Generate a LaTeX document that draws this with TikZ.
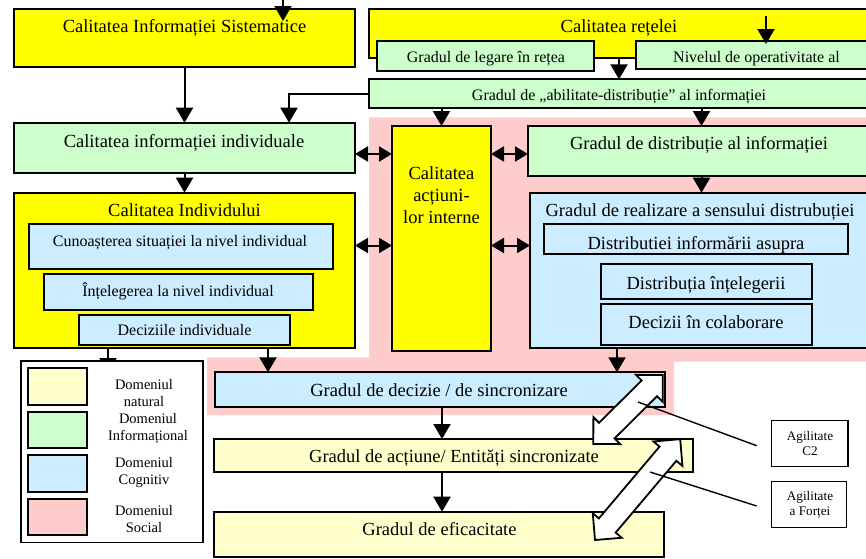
\documentclass[tikz,border=0pt]{standalone}
\usepackage{fontspec}
\setmainfont{Liberation Serif}
\usetikzlibrary{arrows.meta,calc}

\definecolor{sysyel}{HTML}{FFFF00}
\definecolor{natyel}{HTML}{FFFFCC}
\definecolor{infgreen}{HTML}{CCFFCC}
\definecolor{cogblue}{HTML}{CCECFF}
\definecolor{socpink}{HTML}{FFCCCC}

\tikzset{
  bx/.style={draw=black, line width=1.8pt, inner sep=0pt, outer sep=0pt, anchor=north west},
  thinbx/.style={draw=black, line width=1.5pt, inner sep=0pt, outer sep=0pt, anchor=north west, fill=white},
  tbig/.style={font=\fontsize{18.5}{22}\selectfont, inner sep=0pt, anchor=base},
  tmid/.style={font=\fontsize{16}{19}\selectfont, inner sep=0pt, anchor=base},
  tleg/.style={font=\fontsize{14.5}{17}\selectfont, inner sep=0pt, align=center},
  tagl/.style={font=\fontsize{13.2}{15}\selectfont, inner sep=0pt, align=center},
  arr/.style={line width=2pt, -{Triangle[width=17pt,length=15pt]}},
  darr/.style={line width=2pt, {Triangle[width=15pt,length=13pt]}-{Triangle[width=15pt,length=13pt]}},
  blk/.style={draw=black, line width=1.8pt, fill=white, line join=miter},
  thin/.style={line width=1.4pt},
}

% double-headed block arrow: start point, angle, length
\newcommand\blockarrow[3]{%
  \begin{scope}[shift={#1}, rotate=#2]
    \draw[blk] (0,0) -- (19,19) -- (19,11) -- (#3-19,11) -- (#3-19,19) -- (#3,0)
      -- (#3-19,-19) -- (#3-19,-11) -- (19,-11) -- (19,-19) -- cycle;
  \end{scope}}

\begin{document}
\begin{tikzpicture}[x=1pt,y=-1pt]
\useasboundingbox (0,0) rectangle (866,558);
\clip (0,0) rectangle (866,558);

% social domain background
\fill[socpink] (369,117.3) -- (875,117.3) -- (875,361.7) -- (674,361.7) -- (674,415)
  -- (207,415) -- (207,357.3) -- (369,357.3) -- cycle;

% top row
\node[bx, fill=sysyel, minimum width=341pt, minimum height=57.4pt] (cis) at (14,9.3) {};
\node[tbig] (cis-t) at (184.5,32.3) {Calitatea Informației Sistematice};

\node[bx, fill=sysyel, minimum width=506pt, minimum height=48.7pt] (ret) at (369,9.3) {};
\node[tbig] (ret-t) at (619,32.3) {Calitatea rețelei};
\node[bx, fill=infgreen, minimum width=217pt, minimum height=30pt] (lgr) at (377,41) {};
\node[tmid] (lgr-t) at (486,62.5) {Gradul de legare în rețea};
\node[bx, fill=infgreen, minimum width=239pt, minimum height=28pt] (niv) at (636,41) {};
\node[tmid] (niv-t) at (756.5,62.5) {Nivelul de operativitate al};

\node[bx, fill=infgreen, minimum width=506pt, minimum height=29pt] (abil) at (369,79.3) {};
\node[tmid] (abil-t) at (619,100.5) {Gradul de „abilitate-distribuție” al informației};

% left column
\node[bx, fill=infgreen, minimum width=341pt, minimum height=50.6pt] (cii) at (14,122.7) {};
\node[tbig] (cii-t) at (184,147) {Calitatea informației individuale};

\node[bx, fill=sysyel, minimum width=341pt, minimum height=155.6pt] (ci) at (14,192.7) {};
\node[tbig] (ci-t) at (184.5,216.5) {Calitatea Individului};
\node[bx, fill=cogblue, minimum width=304pt, minimum height=45pt] (cun) at (29,224.3) {};
\node[tmid] (cun-t) at (180,246.6) {Cunoașterea situației la nivel individual};
\node[bx, fill=cogblue, minimum width=269pt, minimum height=35.7pt] (inl) at (44,274.3) {};
\node[tmid] (inl-t) at (178,296.6) {Înțelegerea la nivel individual};
\node[bx, fill=cogblue, minimum width=211pt, minimum height=30pt] (dcz) at (79,315) {};
\node[tmid] (dcz-t) at (184.5,335.6) {Deciziile individuale};

% middle column
\node[bx, fill=sysyel, minimum width=99pt, minimum height=224.7pt] (act) at (392,126) {};
\node[tbig, align=center, anchor=center] (act-t) at (441.5,195) {Calitatea\\acțiuni-\\lor interne};

% right column
\node[bx, fill=infgreen, minimum width=347pt, minimum height=50pt] (dist) at (528,126) {};
\node[tbig] (dist-t) at (699,149.5) {Gradul de distribuție al informației};

\node[bx, fill=cogblue, minimum width=345pt, minimum height=155.6pt] (real) at (530,192.7) {};
\node[tbig] (real-t) at (700,216.5) {Gradul de realizare a sensului distrubuției};
\node[bx, fill=cogblue, minimum width=304pt, minimum height=30pt] (dia) at (544,224) {};
\begin{scope}
  \clip (dia.north west) rectangle (dia.south east);
  \node[tbig] (dia-t) at (696,249.5) {Distributiei informării asupra};
\end{scope}
\draw[line width=1.8pt] (dia.north west) rectangle (dia.south east);
\node[bx, fill=cogblue, minimum width=211pt, minimum height=35pt] (din) at (601,264) {};
\node[tbig] (din-t) at (706,289) {Distribuția înțelegerii};
\node[bx, fill=cogblue, minimum width=211pt, minimum height=41pt] (dcol) at (601,304) {};
\node[tbig] (dcol-t) at (706,328) {Decizii în colaborare};

% lower chain
\node[bx, fill=cogblue, minimum width=450pt, minimum height=35pt] (dec) at (215,372.3) {};
\node[tbig] (dec-t) at (439,396.5) {Gradul de decizie / de sincronizare};
\node[bx, fill=natyel, minimum width=479pt, minimum height=32.7pt] (acn) at (214,439) {};
\node[tbig] (acn-t) at (454,462.5) {Gradul de acțiune/ Entități sincronizate};
\node[bx, fill=natyel, minimum width=450pt, minimum height=45pt] (efi) at (214,511.7) {};
\node[tbig] (efi-t) at (439.5,535.5) {Gradul de eficacitate};

% helper coordinates for connector positions
\coordinate (tin) at (283,-6);
\coordinate (tout) at (283,21);
\coordinate (rn) at (766,16);
\coordinate (rnend) at (766,44);
\coordinate (x619) at (619,0);
\coordinate (x289) at (289,0);
\coordinate (x617) at (617,0);
\coordinate (x268) at (268,0);
\coordinate (x108) at (108,0);
\coordinate (x442) at (442,0);
\coordinate (hid) at (108,373);
\coordinate (ya) at (0,154);
\coordinate (yb) at (0,245.5);

% connectors
\draw[arr] (tin) -- (tout);
\draw[arr] (rn) -- (rnend);
\draw[arr] (ret.south -| x619) -- (abil.north -| x619);
\draw[arr] (abil.west) -| (cii.north -| x289);
\draw[arr] (abil.south -| act.north) -- (act.north);
\draw[arr] (abil.south -| dist.north) -- (dist.north);
\draw[arr] (cis.south) -- (cii.north);
\draw[arr] (cii.south) -- (ci.north);
\draw[darr] (cii.east |- ya) -- (act.west |- ya);
\draw[darr] (ci.east |- yb) -- (act.west |- yb);
\draw[darr] (act.east |- ya) -- (dist.west |- ya);
\draw[darr] (act.east |- yb) -- (real.west |- yb);
\draw[arr] (dist.south) -- (real.north -| dist.south);
\draw[arr] (real.south -| x617) -- (dec.north -| x617);
\draw[arr] (ci.south -| x268) -- (dec.north -| x268);
\draw[arr] (ci.south -| x108) -- (hid);
\draw[arr] (dec.south -| x442) -- (acn.north -| x442);
\draw[arr] (acn.south -| x442) -- (efi.north -| x442);

% legend
\node[thinbx, minimum width=182pt, minimum height=181.7pt] (lgd) at (21,361) {};
\node[bx, fill=natyel, minimum width=59pt, minimum height=37pt] (sw1) at (28,368) {};
\node[bx, fill=infgreen, minimum width=59pt, minimum height=36.3pt] (sw2) at (28,411.7) {};
\node[bx, fill=cogblue, minimum width=59pt, minimum height=37pt] (sw3) at (28,455) {};
\node[bx, fill=socpink, minimum width=59pt, minimum height=36pt] (sw4) at (28,499) {};
\node[tleg] (sw1-t) at (144,392.7) {Domeniul\\natural};
\node[tleg] (sw2-t) at (148,428) {Domeniul\\Informațional};
\node[tleg] (sw3-t) at (144,473) {Domeniul\\Cognitiv};
\node[tleg] (sw4-t) at (144,518.7) {Domeniul\\Social};

% agility arrows
\blockarrow{(593.3,444)}{44.8}{98}
\blockarrow{(595,540)}{49.8}{132}

% agility boxes
\node[thinbx, minimum width=76.3pt, minimum height=46pt] (agc) at (771.7,420.7) {};
\node[tagl] (agc-t) at (810,443.5) {Agilitate\\C2};
\node[thinbx, minimum width=75pt, minimum height=45.6pt] (agf) at (771.7,481.7) {};
\node[tagl] (agf-t) at (810,505) {Agilitate\\a Forței};

\coordinate (ag1) at (638,402);
\coordinate (ag2) at (650,472);
\draw[thin] (ag1) -- ([shift={(-15pt,-2pt)}]agc.west);
\draw[thin] (ag2) -- ([shift={(-15pt,-1.5pt)}]agf.west);

\end{tikzpicture}
\end{document}
